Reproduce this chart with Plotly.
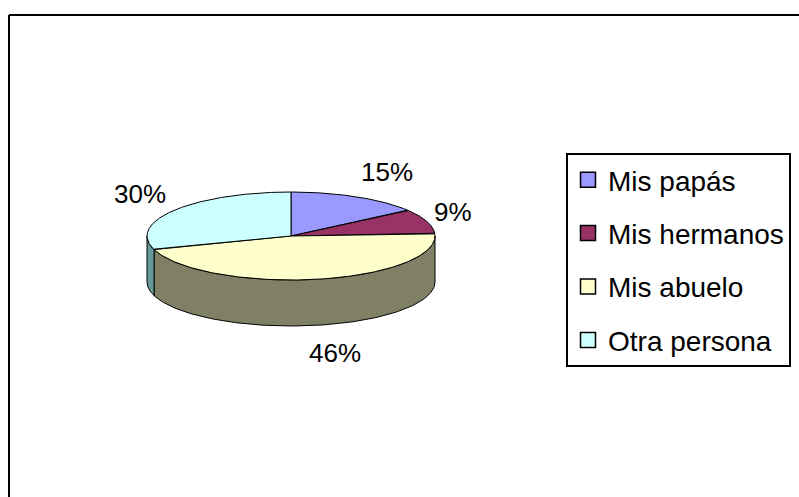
import numpy as np
import plotly.graph_objects as go

# ---- data ----
labels = ["Mis papás", "Mis hermanos", "Mis abuelo", "Otra persona"]
values = [15, 9, 46, 30]
pct_text = ["15%", "9%", "46%", "30%"]

# ---- style ----
top_colors = ["#9999FF", "#993366", "#FFFFCC", "#CCFFFF"]
side_colors = ["#666699", "#662244", "#808066", "#669999"]
FONT = "Liberation Sans Narrow, Arial Narrow, Liberation Sans, Arial, sans-serif"
LABEL_SIZE = 26

W, H = 799, 497
CX, CY, RX, RY, DEPTH = 291, 236, 144, 44, 46


def ell(theta_deg, dy=0.0):
    t = np.radians(theta_deg)
    return CX + RX * np.cos(t), CY - RY * np.sin(t) + dy


fig = go.Figure()

total = float(sum(values))
bounds = []
a = 90.0
for v in values:
    a1 = a - v / total * 360.0
    bounds.append((a, a1))
    a = a1

# sides (front half: angles between -180 and 0)
for (a0, a1), sc, lab in zip(bounds, side_colors, labels):
    hi = min(a0, 0.0)
    lo = max(a1, -180.0)
    if hi <= lo:
        continue
    th = np.linspace(hi, lo, 120)
    xt, yt = ell(th)
    xb, yb = ell(th[::-1], DEPTH)
    xs = np.concatenate([xt, xb, xt[:1]])
    ys = np.concatenate([yt, yb, yt[:1]])
    fig.add_trace(go.Scatter(x=xs, y=ys, mode="lines", fill="toself",
                             fillcolor=sc, line=dict(color="black", width=1),
                             hoverinfo="skip", showlegend=False, legendgroup=lab))

# top faces
for (a0, a1), tc, lab, v in zip(bounds, top_colors, labels, values):
    th = np.linspace(a0, a1, 200)
    xa, ya = ell(th)
    xs = np.concatenate([[CX], xa, [CX]])
    ys = np.concatenate([[CY], ya, [CY]])
    fig.add_trace(go.Scatter(x=xs, y=ys, mode="lines", fill="toself",
                             fillcolor=tc, line=dict(color="black", width=1),
                             name=lab, text=f"{lab}: {v}%", hoverinfo="text",
                             showlegend=False, legendgroup=lab))

# legend entries
for tc, lab in zip(top_colors, labels):
    fig.add_trace(go.Scatter(x=[None], y=[None], mode="markers", name=lab,
                             legendgroup=lab,
                             marker=dict(symbol="square", size=15, color=tc,
                                         line=dict(color="black", width=1.5))))

# percentage labels outside the slices
annotations = []
for (a0, a1), t in zip(bounds, pct_text):
    mid = (a0 + a1) / 2.0
    r = np.radians(mid)
    c, s = np.cos(r), np.sin(r)
    hw = len(t) * LABEL_SIZE * 0.335
    x = CX + (RX + 10) * c + hw * np.clip(3 * c, -1, 1)
    y = CY - (RY + 28) * s + (DEPTH if s < 0 else 0)
    annotations.append(dict(x=x, y=y, xref="x", yref="y", text=t, showarrow=False,
                            xanchor="center", yanchor="middle",
                            font=dict(family=FONT, size=LABEL_SIZE, color="black")))

fig.update_layout(
    width=W, height=H,
    margin=dict(l=0, r=0, t=0, b=0, autoexpand=False),
    paper_bgcolor="white", plot_bgcolor="white",
    xaxis=dict(range=[0, W], visible=False, fixedrange=True),
    yaxis=dict(range=[H, 0], visible=False, fixedrange=True),
    annotations=annotations,
    showlegend=True,
    legend=dict(x=566 / W, y=1 - 153 / H, xanchor="left", yanchor="top",
                bgcolor="white", bordercolor="black", borderwidth=2,
                font=dict(family=FONT, size=28, color="black"),
                tracegroupgap=14, itemclick=False, itemdoubleclick=False),
    shapes=[
        dict(type="line", xref="paper", yref="paper", x0=9 / W, x1=9 / W,
             y0=0, y1=1 - 15 / H, line=dict(color="black", width=2)),
        dict(type="line", xref="paper", yref="paper", x0=9 / W, x1=1,
             y0=1 - 15 / H, y1=1 - 15 / H, line=dict(color="black", width=2)),
    ],
)

fig.write_html("out.html", config={"displayModeBar": False},
               post_script="document.body.style.margin='0px';")
